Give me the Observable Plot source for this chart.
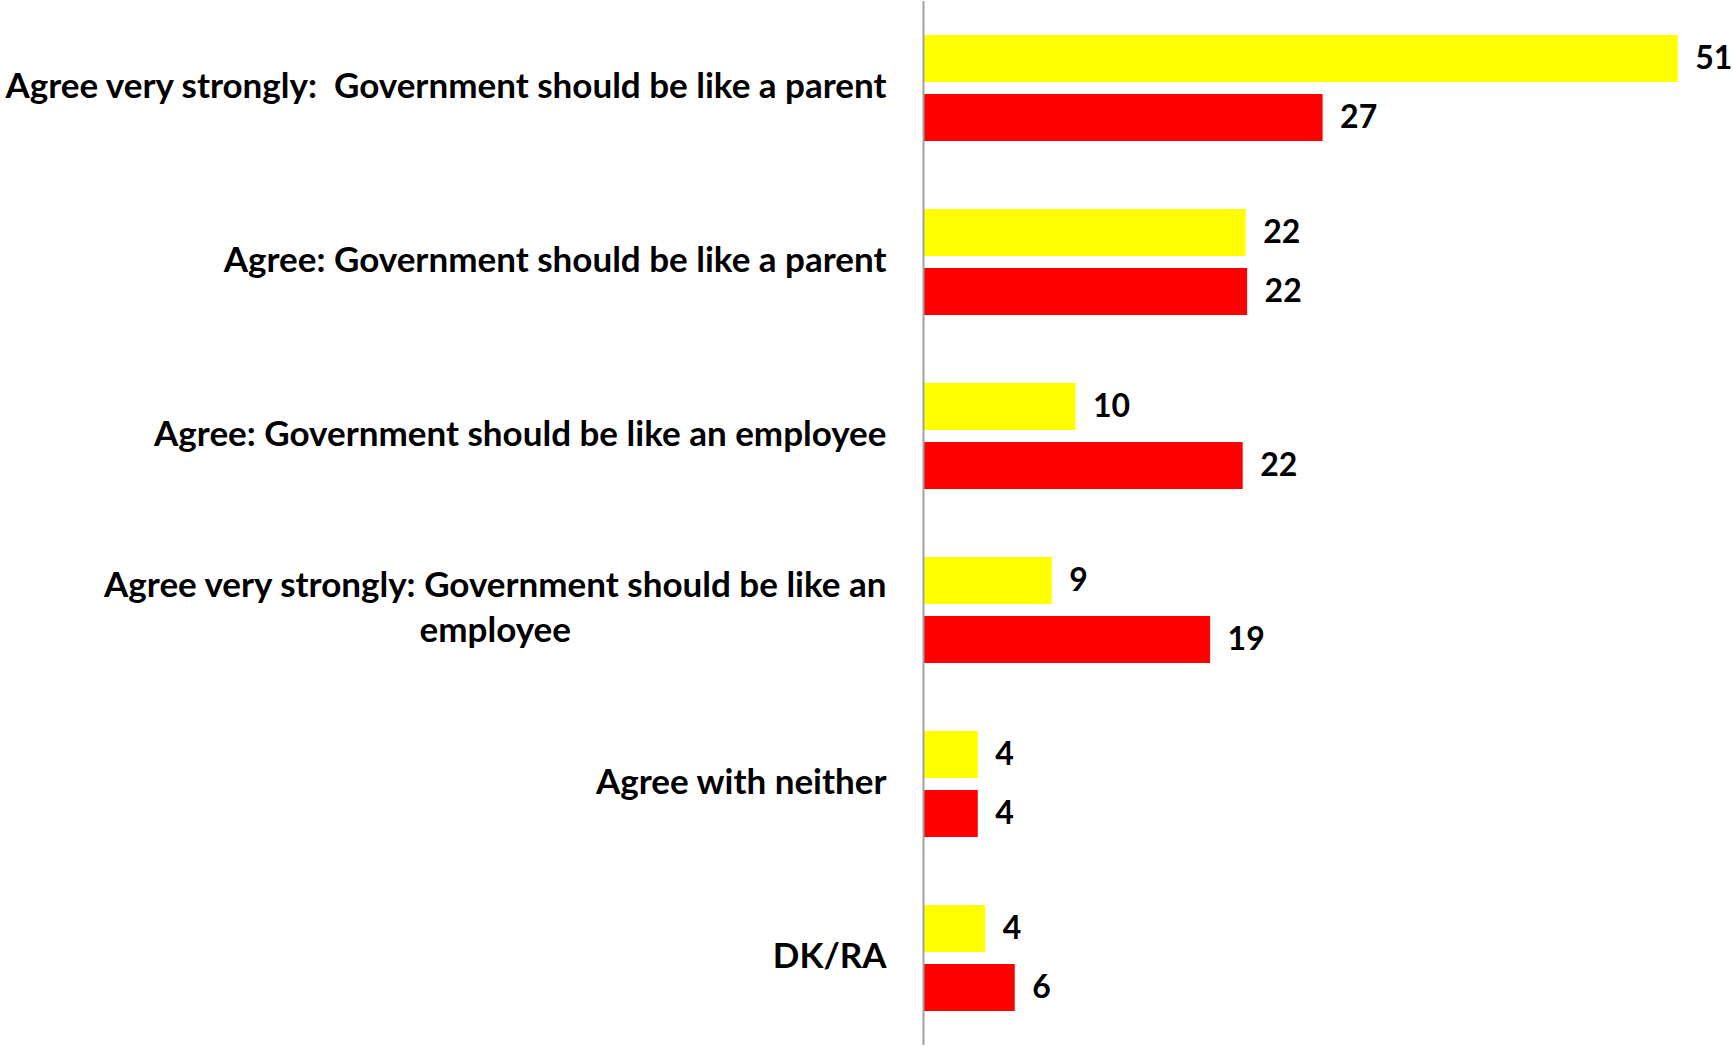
<!DOCTYPE html>
<html>
<head>
<meta charset="utf-8">
<script src="https://cdn.jsdelivr.net/npm/d3@7"></script>
<script src="https://cdn.jsdelivr.net/npm/@observablehq/plot@0.6"></script>
<style>
  html, body { margin: 0; padding: 0; background: #fff; }
  svg text { white-space: pre; }
</style>
</head>
<body>
<div id="chart"></div>
<script>
const categories = [
  "Agree very strongly:  Government should be like a parent",
  "Agree: Government should be like a parent",
  "Agree: Government should be like an employee",
  "Agree very strongly: Government should be like an employee",
  "Agree with neither",
  "DK/RA"
];
const categoryLabels = [
  "Agree very strongly:  Government should be like a parent",
  "Agree: Government should be like a parent",
  "Agree: Government should be like an employee",
  "Agree very strongly: Government should be like an\nemployee",
  "Agree with neither",
  "DK/RA"
];
const series = ["Series 1", "Series 2"];
const seriesColors = ["#FFFF00", "#FF0000"];
const yellowValues = [51.0, 21.8, 10.3, 8.7, 3.7, 4.2];
const redValues = [27.0, 21.9, 21.6, 19.4, 3.7, 6.2];

const data = [];
categories.forEach((c, i) => {
  data.push({category: c, series: series[0], value: yellowValues[i]});
  data.push({category: c, series: series[1], value: redValues[i]});
});
const labelOf = new Map(categories.map((c, i) => [c, categoryLabels[i]]));

const FS = 32;
const LFS = 35;
const chart = Plot.plot({
  width: 1733,
  height: 1046,
  marginLeft: 923,
  marginRight: 0,
  marginTop: 0,
  marginBottom: 0,
  style: {fontFamily: "Lato, 'Open Sans', sans-serif", fontWeight: "bold", color: "#000", background: "#fff"},
  x: {domain: [0, 54.73], axis: null},
  fy: {domain: categories, padding: 0, axis: null},
  y: {domain: series, paddingInner: 0.203, paddingOuter: 0.576, axis: null},
  color: {domain: series, range: seriesColors},
  marks: [
    Plot.barX(data, {fy: "category", y: "series", x: "value", fill: "series"}),
    Plot.text(data, {
      fy: "category", y: "series", x: "value",
      text: d => d3.format(".0f")(d.value),
      textAnchor: "start", dx: 17, fontSize: FS, fontWeight: "bold", fill: "#000"
    }),
    Plot.text(categories, {
      fy: d => d, text: d => labelOf.get(d),
      frameAnchor: "left", textAnchor: "end", dx: -37, dy: -5,
      fontSize: LFS, fontWeight: "bold", fill: "#000", lineHeight: 45 / LFS
    }),
    Plot.ruleX([0], {stroke: "#a0a0a0", strokeWidth: 2})
  ]
});
document.getElementById("chart").appendChild(chart);

// center multi-line label lines relative to each other, keeping right edge
chart.querySelectorAll("text").forEach(t => {
  const spans = t.querySelectorAll("tspan");
  if (spans.length > 1) {
    const widths = Array.from(spans, s => s.getComputedTextLength());
    const maxW = Math.max(...widths);
    t.setAttribute("text-anchor", "middle");
    spans.forEach(s => s.setAttribute("x", -maxW / 2));
  }
});
</script>
</body>
</html>
